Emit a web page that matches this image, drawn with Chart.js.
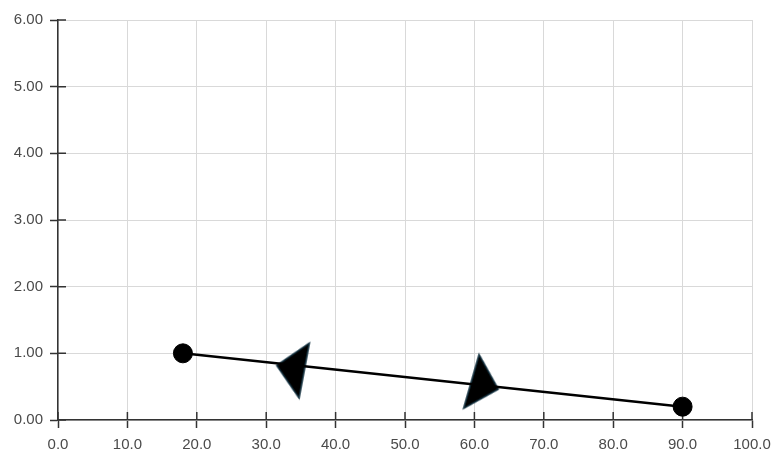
<!DOCTYPE html>
<html>
<head>
<meta charset="utf-8">
<script src="https://cdn.jsdelivr.net/npm/chart.js@4.4.1/dist/chart.umd.min.js"></script>
<style>
  html, body { margin: 0; padding: 0; background: #fff; }
  #wrap { width: 782px; height: 467px; }
</style>
</head>
<body>
<div id="wrap"><canvas id="chart" width="782" height="467"></canvas></div>
<script>
// --- DATA ---
const lineX = [18, 90];
const lineY = [1.0, 0.2];
const arrowX = [33.5, 61.5];
const arrowY = [0.78, 0.52];
const xTicks = [0, 10, 20, 30, 40, 50, 60, 70, 80, 90, 100];
const yTicks = [0, 1, 2, 3, 4, 5, 6];

const linePoints = lineX.map((x, i) => ({ x: x, y: lineY[i] }));
const arrowPoints = arrowX.map((x, i) => ({ x: x, y: arrowY[i] }));

// arrow head image (points right, centre halfway between base and tip)
const arrowImg = document.createElement('canvas');
arrowImg.width = 32;
arrowImg.height = 60;
const a = arrowImg.getContext('2d');
a.beginPath();
a.moveTo(2, 2);
a.lineTo(30, 30);
a.lineTo(2, 58);
a.closePath();
a.fillStyle = '#000';
a.fill();
a.lineWidth = 1.5;
a.strokeStyle = '#12303f';
a.stroke();

// ticks that also reach inside the plot
const innerTicks = {
    id: 'innerTicks',
    beforeDatasetsDraw(chart) {
        const ctx = chart.ctx;
        const area = chart.chartArea;
        ctx.save();
        ctx.strokeStyle = '#333';
        ctx.lineWidth = 1.5;
        ctx.beginPath();
        chart.scales.x.ticks.forEach(t => {
            const px = chart.scales.x.getPixelForValue(t.value);
            ctx.moveTo(px, area.bottom);
            ctx.lineTo(px, area.bottom - 8);
        });
        chart.scales.y.ticks.forEach(t => {
            const py = chart.scales.y.getPixelForValue(t.value);
            ctx.moveTo(area.left, py);
            ctx.lineTo(area.left + 8, py);
        });
        ctx.stroke();
        ctx.restore();
    }
};

const tickFont = { family: 'Liberation Sans, Arial, sans-serif', size: 15 };

const ctx = document.getElementById('chart').getContext('2d');
new Chart(ctx, {
    type: 'scatter',
    data: {
        datasets: [{
            data: linePoints,
            showLine: true,
            borderColor: '#000',
            borderWidth: 2.5,
            backgroundColor: '#000',
            pointRadius: 9.5,
            pointBorderWidth: 1,
            pointBorderColor: '#000'
        }, {
            data: arrowPoints,
            showLine: false,
            pointStyle: arrowImg,
            rotation: [190.6, 16]
        }]
    },
    options: {
        responsive: false,
        animation: false,
        layout: { padding: { top: 20, right: 30, left: 0, bottom: 0 } },
        plugins: { legend: { display: false }, tooltip: { enabled: false } },
        scales: {
            x: {
                type: 'linear',
                min: 0,
                max: 100,
                afterBuildTicks: s => { s.ticks = xTicks.map(v => ({ value: v })); },
                afterFit: s => { s.height = 47; },
                ticks: {
                    padding: 8,
                    color: '#4a4a4a',
                    font: tickFont,
                    callback: v => Number(v).toFixed(1),
                    maxRotation: 0
                },
                grid: { color: '#d9d9d9', lineWidth: 1, tickColor: '#333', tickLength: 8, tickWidth: 1.5 },
                border: { color: '#333', width: 1.5 }
            },
            y: {
                type: 'linear',
                min: 0,
                max: 6,
                afterBuildTicks: s => { s.ticks = yTicks.map(v => ({ value: v })); },
                afterFit: s => { s.width = 58; },
                ticks: {
                    padding: 7,
                    color: '#4a4a4a',
                    font: tickFont,
                    callback: v => Number(v).toFixed(2)
                },
                grid: { color: '#d9d9d9', lineWidth: 1, tickColor: '#333', tickLength: 8, tickWidth: 1.5 },
                border: { color: '#333', width: 1.5 }
            }
        }
    },
    plugins: [innerTicks]
});
</script>
</body>
</html>
